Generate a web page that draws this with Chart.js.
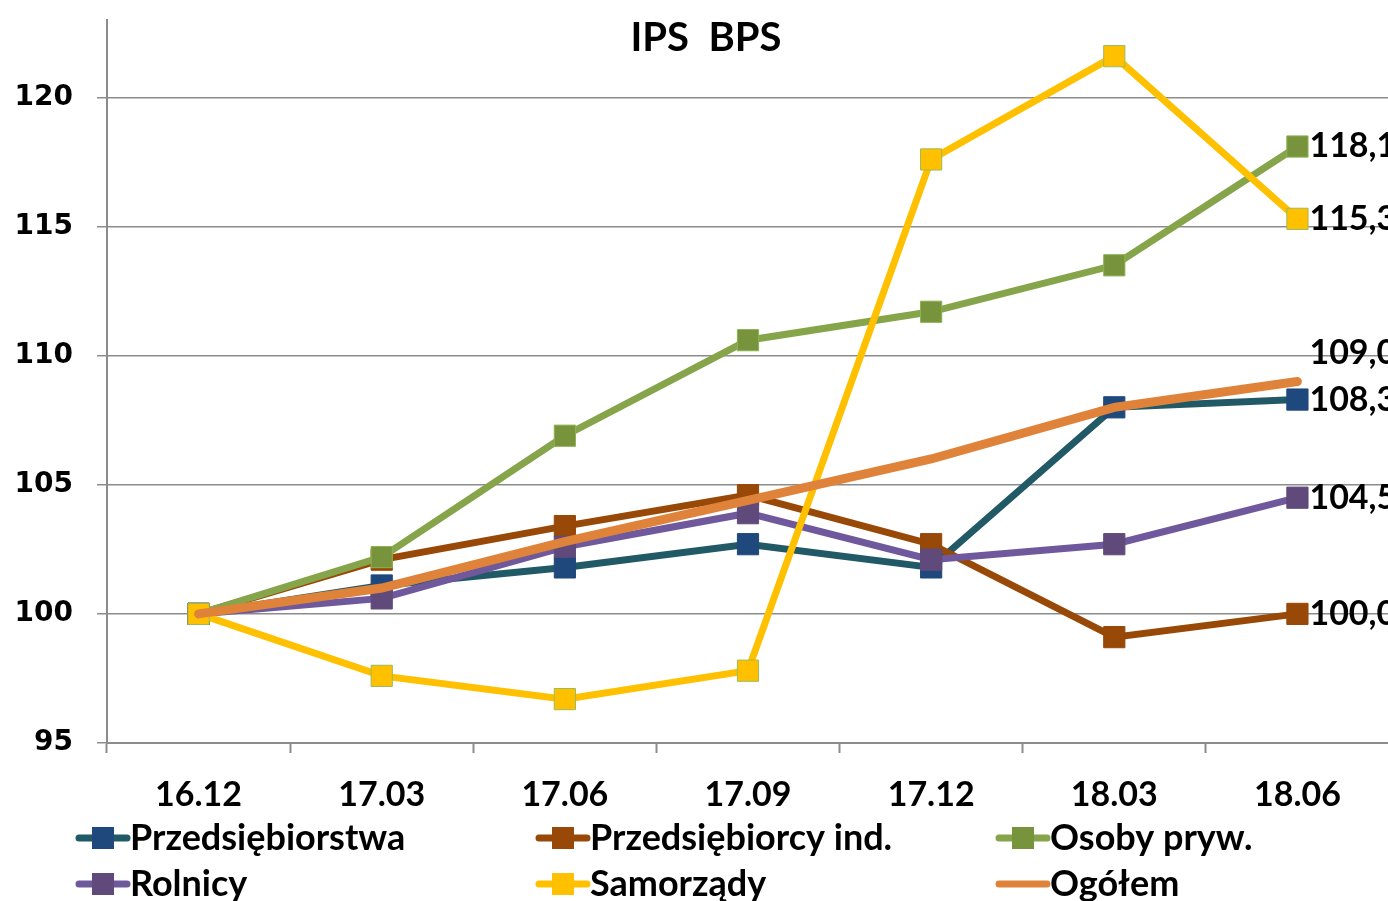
<!DOCTYPE html>
<html lang="pl">
<head>
<meta charset="utf-8">
<title>IPS BPS</title>
<script src="https://cdn.jsdelivr.net/npm/chart.js@4.4.1/dist/chart.umd.min.js"></script>
<style>
  html, body { margin: 0; padding: 0; background: #fff; overflow: hidden; }
  #wrap { position: absolute; left: 0; top: 0; width: 1500px; height: 940px; }
</style>
</head>
<body>
<div id="wrap"><canvas id="chart" width="1500" height="940"></canvas></div>
<script>
const periods = ["16.12", "17.03", "17.06", "17.09", "17.12", "18.03", "18.06"];

const przedsiebiorstwa = [100.0, 101.1, 101.8, 102.7, 101.8, 108.0, 108.3];
const przedsiebiorcyInd = [100.0, 102.1, 103.4, 104.6, 102.7, 99.1, 100.0];
const osobyPryw = [100.0, 102.2, 106.9, 110.6, 111.7, 113.5, 118.1];
const rolnicy = [100.0, 100.6, 102.6, 103.9, 102.1, 102.7, 104.5];
const samorzady = [100.0, 97.6, 96.7, 97.8, 117.6, 121.6, 115.3];
const ogolem = [100.0, 101.0, 102.8, 104.4, 106.0, 108.0, 109.0];

const yTicks = [95, 100, 105, 110, 115, 120];

const BOLD_FONT = "Lato, 'Open Sans', sans-serif";
const GRID = "#8c8c8c";

function series(label, data, line, marker, order, extra) {
  return Object.assign({
    label,
    data,
    order,
    borderColor: line,
    backgroundColor: marker,
    borderWidth: 7,
    pointStyle: "rect",
    pointRadius: 15,
    pointHoverRadius: 15,
    pointBackgroundColor: marker,
    pointBorderColor: marker,
    pointBorderWidth: 1,
    tension: 0,
    fill: false,
  }, extra || {});
}

const datasets = [
  series("Przedsiębiorstwa", przedsiebiorstwa, "#215967", "#1f497d", 5),
  series("Przedsiębiorcy ind.", przedsiebiorcyInd, "#984807", "#984807", 4),
  series("Osoby pryw.", osobyPryw, "#86a44a", "#77933c", 3, { pointBorderColor: "#8db452" }),
  series("Rolnicy", rolnicy, "#70589d", "#604a7b", 2),
  series("Samorządy", samorzady, "#ffc000", "#ffc000", 1, { pointBorderColor: "#9bbb59" }),
  series("Ogółem", ogolem, "#e0833a", "#e0833a", 0, { pointRadius: 0, pointHoverRadius: 0, borderWidth: 9, borderCapStyle: "round" }),
];

// vertical nudge for the end-of-line value labels
const labelShift = { "Ogółem": -28 };

const titlePlugin = {
  id: "ipsTitle",
  afterDraw(chart) {
    const ctx = chart.ctx;
    ctx.save();
    ctx.font = `bold 40px ${BOLD_FONT}`;
    ctx.fillStyle = "#000";
    ctx.textAlign = "center";
    ctx.textBaseline = "middle";
    ctx.fillText("IPS  BPS", 706, 38);
    ctx.restore();
  },
};

const endLabels = {
  id: "endLabels",
  afterDatasetsDraw(chart) {
    const ctx = chart.ctx;
    ctx.save();
    ctx.font = `bold 34px ${BOLD_FONT}`;
    ctx.fillStyle = "#000";
    ctx.textAlign = "left";
    ctx.textBaseline = "middle";
    chart.data.datasets.forEach((ds, i) => {
      const meta = chart.getDatasetMeta(i);
      const last = ds.data.length - 1;
      const pt = meta.data[last];
      const text = ds.data[last].toFixed(1).replace(".", ",");
      ctx.fillText(text, pt.x + 12, pt.y + (labelShift[ds.label] || 0));
    });
    ctx.restore();
  },
};

const gridLegend = {
  id: "gridLegend",
  afterDraw(chart) {
    const ctx = chart.ctx;
    const colX = [75, 535, 995];
    const rowY = [838, 884];
    ctx.save();
    ctx.font = `bold 36px ${BOLD_FONT}`;
    ctx.textBaseline = "middle";
    ctx.textAlign = "left";
    chart.data.datasets.forEach((ds, i) => {
      const x = colX[i % 3];
      const y = rowY[Math.floor(i / 3)];
      ctx.strokeStyle = ds.borderColor;
      ctx.lineWidth = 7;
      ctx.lineCap = "round";
      ctx.beginPath();
      ctx.moveTo(x + 4, y);
      ctx.lineTo(x + 52, y);
      ctx.stroke();
      if (ds.pointRadius > 0) {
        ctx.fillStyle = ds.pointBackgroundColor;
        ctx.fillRect(x + 17, y - 11, 22, 22);
      }
      ctx.fillStyle = "#000";
      ctx.fillText(ds.label, x + 55, y);
    });
    ctx.restore();
  },
};

new Chart(document.getElementById("chart"), {
  type: "line",
  data: { labels: periods, datasets },
  plugins: [titlePlugin, endLabels, gridLegend],
  options: {
    responsive: false,
    devicePixelRatio: 1,
    animation: false,
    layout: { padding: { top: 20, right: 111, bottom: 117, left: 0 } },
    plugins: {
      legend: { display: false },
      title: { display: false },
      tooltip: { enabled: false },
    },
    scales: {
      x: {
        offset: true,
        afterFit(scale) { scale.height = 80; },
        grid: {
          offset: true,
          drawOnChartArea: false,
          drawTicks: true,
          tickLength: 10,
          tickWidth: 2,
          tickColor: GRID,
        },
        border: { color: GRID, width: 2 },
        ticks: {
          color: "#000",
          padding: 22,
          maxRotation: 0,
          font: { family: BOLD_FONT, size: 34, weight: "bold" },
        },
      },
      y: {
        min: 95,
        max: 123,
        afterFit(scale) {
          scale.width = 107;
          scale.paddingTop = 0;
          scale.paddingBottom = 0;
        },
        afterBuildTicks(scale) { scale.ticks = yTicks.map(v => ({ value: v })); },
        grid: {
          color: GRID,
          lineWidth: 1.5,
          tickLength: 10,
          tickColor: GRID,
        },
        border: { color: GRID, width: 2 },
        ticks: {
          color: "#000",
          padding: 24,
          font: { family: "'DejaVu Sans', sans-serif", size: 28, weight: "bold" },
        },
      },
    },
  },
});
</script>
</body>
</html>
